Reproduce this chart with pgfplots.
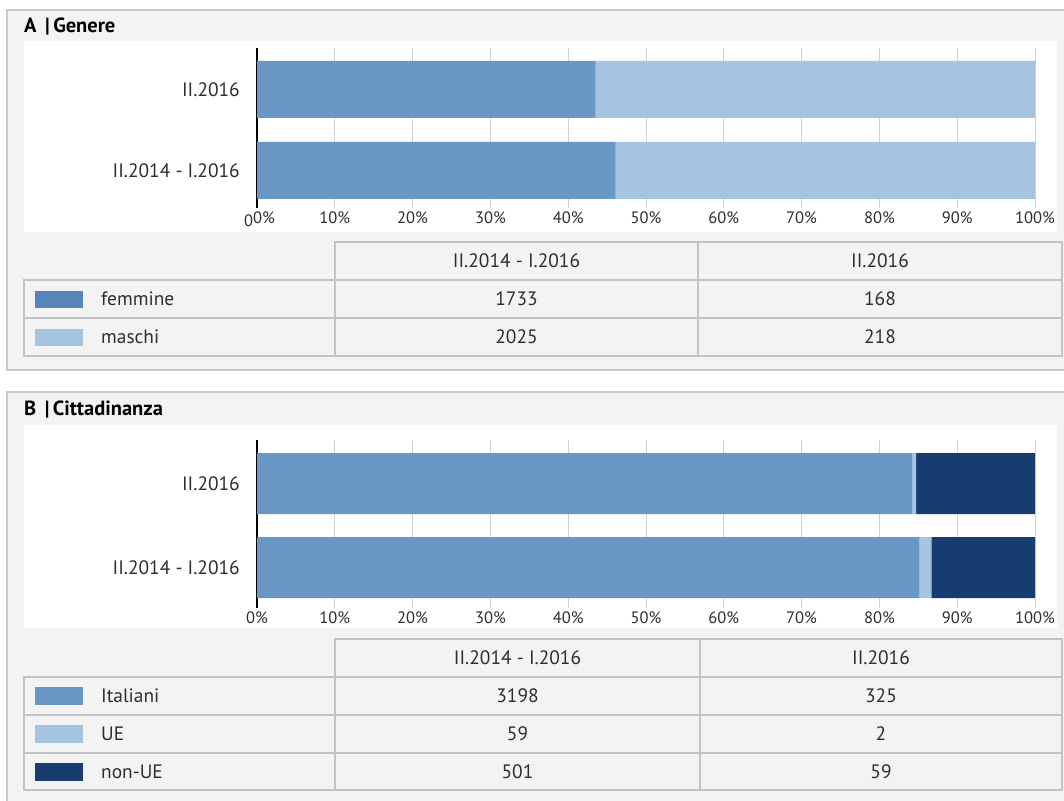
\documentclass[border=0pt]{standalone}
\usepackage{pgfplots}
\usepackage{pgfplotstable}
\pgfplotsset{compat=1.18}
\usepackage{fontspec}
\setmainfont{PT Sans}

\definecolor{panelbg}{HTML}{F2F3F2}
\definecolor{panelline}{HTML}{C8C9CA}
\definecolor{cellline}{HTML}{C2C3C5}
\definecolor{gridgrey}{HTML}{D2D2D2}
\definecolor{txt}{HTML}{2E2E2E}
\definecolor{midblue}{HTML}{6A98C4}
\definecolor{swatchblue}{HTML}{5686B9}
\definecolor{lightblue}{HTML}{A4C4E0}
\definecolor{navy}{HTML}{173D70}

% shares in percent of each period's total
\pgfplotstableread{
period fem mas
0 46.11 53.89
1 43.52 56.48
}\genere
\pgfplotstableread{
period ita ue nonue
0 85.10 1.57 13.33
1 84.20 0.52 15.28
}\cittadinanza

\newcommand\bodyfont{\fontsize{19.4}{19.4}\selectfont}
\newcommand\titlefont{\bfseries\fontsize{20.5}{20.5}\selectfont}
\newcommand\cell[4]{\draw[cellline, line width=2.5pt, fill=panelbg] (#1,-#2) rectangle (#3,-#4);}

\pgfplotsset{
  stackbar/.style={
    xbar stacked, scale only axis, width=778pt,
    anchor=south west,
    xmin=0, xmax=100,
    xtick={0,10,...,100},
    ytick={0,1}, yticklabels={II.2014 - I.2016, II.2016},
    xmajorgrids, grid style={gridgrey, line width=1pt},
    axis x line*=bottom, axis y line*=left,
    x axis line style={draw=none},
    y axis line style={-, line width=1.6pt, black},
    major tick length=0pt,
    tick label style={text=txt, inner sep=0pt},
    yticklabel style={font=\bodyfont, xshift=-17pt},
    xticklabel style={font=\fontsize{16.5}{16.5}\selectfont, yshift=-4pt},
    clip=false,
  }
}

\begin{document}
\begin{tikzpicture}[x=1pt, y=1pt]
\useasboundingbox (0,0) rectangle (1064,-800);
\clip (0,0) rectangle (1064,-800);
\fill[white] (0,0) rectangle (1064,-800);

% ---------- panel A ----------
\draw[panelline, line width=2pt, fill=panelbg] (7,-10) rectangle (1080,-370);
\fill[white] (24,-41) rectangle (1057,-232);
\node[anchor=west, font=\titlefont, inner sep=0pt] at (24,-27) {A \,|\,Genere};

\begin{axis}[stackbar, at={(257pt,-208pt)}, height=160pt,
  ymin=-0.463, ymax=1.512, bar width=57pt,
  xticklabels={{\raisebox{-3pt}{0}0\%\hspace*{-5pt}},10\%,20\%,30\%,40\%,50\%,60\%,70\%,80\%,90\%,100\%}]
  \addplot[fill=midblue, draw=none] table[x=fem, y=period] {\genere};
  \addplot[fill=lightblue, draw=none] table[x=mas, y=period] {\genere};
\end{axis}

\cell{335}{242}{698}{280}
\cell{698}{242}{1062}{280}
\cell{24}{280}{335}{318}
\cell{335}{280}{698}{318}
\cell{698}{280}{1062}{318}
\cell{24}{318}{335}{356}
\cell{335}{318}{698}{356}
\cell{698}{318}{1062}{356}

\begin{scope}[every node/.style={font=\bodyfont, text=txt, inner sep=0pt}]
\node at (516.5,-261) {II.2014 - I.2016};
\node at (880,-261) {II.2016};
\fill[swatchblue] (35,-290.5) rectangle (83,-307.5);
\node[anchor=west] at (101,-299) {femmine};
\node at (516.5,-299) {1733};
\node at (880,-299) {168};
\fill[lightblue] (35,-328.5) rectangle (83,-345.5);
\node[anchor=west] at (101,-337) {maschi};
\node at (516.5,-337) {2025};
\node at (880,-337) {218};
\end{scope}

% ---------- panel B ----------
\draw[panelline, line width=2pt, fill=panelbg] (7,-392) rectangle (1080,-820);
\fill[white] (24,-425) rectangle (1057,-628);
\node[anchor=west, font=\titlefont, inner sep=0pt] at (24,-410) {B \,|\,Cittadinanza};

\begin{axis}[stackbar, at={(257pt,-608pt)}, height=168pt,
  ymin=-0.482, ymax=1.518, bar width=61pt,
  xticklabels={0\%,10\%,20\%,30\%,40\%,50\%,60\%,70\%,80\%,90\%,100\%}]
  \addplot[fill=midblue, draw=none] table[x=ita, y=period] {\cittadinanza};
  \addplot[fill=lightblue, draw=none] table[x=ue, y=period] {\cittadinanza};
  \addplot[fill=navy, draw=none] table[x=nonue, y=period] {\cittadinanza};
\end{axis}

\cell{335}{639}{700}{677}
\cell{700}{639}{1062}{677}
\cell{24}{677}{335}{715}
\cell{335}{677}{700}{715}
\cell{700}{677}{1062}{715}
\cell{24}{715}{335}{753}
\cell{335}{715}{700}{753}
\cell{700}{715}{1062}{753}
\cell{24}{753}{335}{790}
\cell{335}{753}{700}{790}
\cell{700}{753}{1062}{790}

\begin{scope}[every node/.style={font=\bodyfont, text=txt, inner sep=0pt}]
\node at (517.5,-658) {II.2014 - I.2016};
\node at (881,-658) {II.2016};
\fill[midblue] (35,-687) rectangle (83,-705);
\node[anchor=west] at (101,-696) {Italiani};
\node at (517.5,-696) {3198};
\node at (881,-696) {325};
\fill[lightblue] (35,-725) rectangle (83,-743);
\node[anchor=west] at (101,-734) {UE};
\node at (517.5,-734) {59};
\node at (881,-734) {2};
\fill[navy] (35,-762.5) rectangle (83,-780.5);
\node[anchor=west] at (101,-771.5) {non-UE};
\node at (517.5,-771.5) {501};
\node at (881,-771.5) {59};
\end{scope}
\end{tikzpicture}
\end{document}
